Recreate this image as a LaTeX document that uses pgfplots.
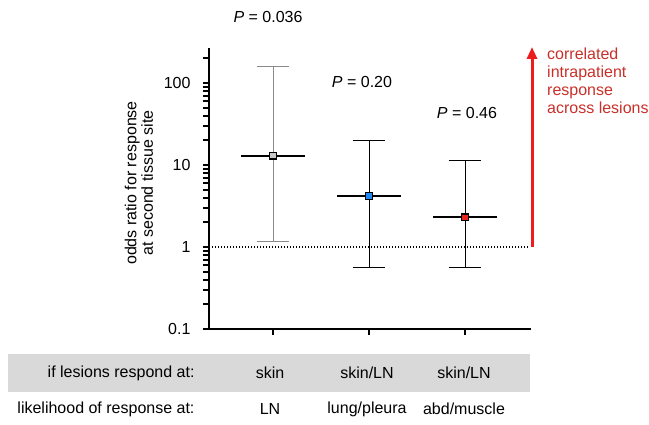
\documentclass[border=0pt]{standalone}
\usepackage{pgfplots}
\pgfplotsset{compat=1.18}
\usepackage{fontspec}
\setmainfont{Liberation Sans}
\usetikzlibrary{arrows.meta}
\definecolor{mgray}{HTML}{C8C8C8}
\definecolor{mblue}{HTML}{1E88F0}
\definecolor{mred}{HTML}{E8261C}
\definecolor{arrowred}{HTML}{EE1D1D}
\definecolor{textred}{HTML}{C8302A}
\definecolor{band}{HTML}{D9D9D9}
\definecolor{wgray}{HTML}{8A8A8A}
\newcommand{\fs}{\fontsize{16bp}{16.5bp}\selectfont}
\begin{document}
\begin{tikzpicture}[font=\fs]
\path[use as bounding box] (0,0) rectangle (649bp,425bp);
\fill[band] (8bp,33bp) rectangle (530bp,71bp);
\begin{axis}[
  at={(209bp,96bp)}, anchor=south west,
  scale only axis, width=321bp, height=280bp,
  xmin=0.3333, xmax=3.677, ymode=log, ymin=0.1, ymax=260,
  axis x line*=bottom, axis y line*=left,
  axis line style={-, line width=2.2bp, line cap=rect},
  xtick={1,2,3}, xticklabels={},
  ytick={0.1,1,10,100}, yticklabels={\mbox{0.1},\mbox{1},\mbox{10},\mbox{100}},
  minor ytick={0.2,0.3,0.4,0.5,0.6,0.7,0.8,0.9,2,3,4,5,6,7,8,9,20,30,40,50,60,70,80,90,200},
  tick align=outside,
  major tick length=6bp, minor tick length=6bp,
  tick style={black, line width=1.8bp},
  yticklabel style={font=\fs, xshift=-9bp},
  clip=false,
]
% dotted reference line at OR = 1
\addplot[black, line width=1.3bp, dash pattern=on 1.3bp off 1.7bp] coordinates {(0.3333,1) (3.66,1)};
% series 1: skin -> LN
\addplot[wgray, line width=1bp] coordinates {(1,1.16) (1,160)};
\addplot[wgray, line width=1bp] coordinates {(0.83,160) (1.17,160)};
\addplot[wgray, line width=1bp] coordinates {(0.83,1.16) (1.17,1.16)};
\addplot[black, line width=2.2bp] coordinates {(0.67,13) (1.33,13)};
\addplot[only marks, mark=square*, mark size=3.4bp, mark options={fill=mgray, draw=black, line width=1.4bp}] coordinates {(1,13)};
% series 2: skin/LN -> lung/pleura
\addplot[black, line width=1bp] coordinates {(2,0.57) (2,20)};
\addplot[black, line width=1bp] coordinates {(1.83,20) (2.17,20)};
\addplot[black, line width=1bp] coordinates {(1.83,0.57) (2.17,0.57)};
\addplot[black, line width=2.2bp] coordinates {(1.67,4.2) (2.33,4.2)};
\addplot[only marks, mark=square*, mark size=3.4bp, mark options={fill=mblue, draw=black, line width=1.4bp}] coordinates {(2,4.2)};
% series 3: skin/LN -> abd/muscle
\addplot[black, line width=1bp] coordinates {(3,0.57) (3,11.5)};
\addplot[black, line width=1bp] coordinates {(2.83,11.5) (3.17,11.5)};
\addplot[black, line width=1bp] coordinates {(2.83,0.57) (3.17,0.57)};
\addplot[black, line width=2.2bp] coordinates {(2.67,2.3) (3.33,2.3)};
\addplot[only marks, mark=square*, mark size=3.4bp, mark options={fill=mred, draw=black, line width=1.4bp}] coordinates {(3,2.3)};
\end{axis}
% P values
\node at (268bp,408bp) {\textit{P} = 0.036};
\node at (362bp,343bp) {\textit{P} = 0.20};
\node at (467bp,312bp) {\textit{P} = 0.46};
% y label
\node[rotate=90, align=center] at (139bp,242bp) {odds ratio for response\\at second tissue site};
% red arrow and text
\draw[arrowred, line width=3bp, -{Triangle[length=12bp, width=10bp]}] (532bp,178bp) -- (532bp,378bp);
\node[textred, anchor=north west, align=left, inner sep=0pt, font=\fontsize{16bp}{18bp}\selectfont] at (547bp,377bp) {correlated\\intrapatient\\response\\across lesions};
% table
\node[anchor=east] at (198bp,52bp) {if lesions respond at:};
\node at (270bp,52bp) {skin};
\node at (367bp,52bp) {skin/LN};
\node at (464bp,52bp) {skin/LN};
\node[anchor=east] at (198bp,16bp) {likelihood of response at:};
\node at (270bp,16bp) {LN};
\node at (367bp,16bp) {lung/pleura};
\node at (464bp,16bp) {abd/muscle};
\end{tikzpicture}
\end{document}
